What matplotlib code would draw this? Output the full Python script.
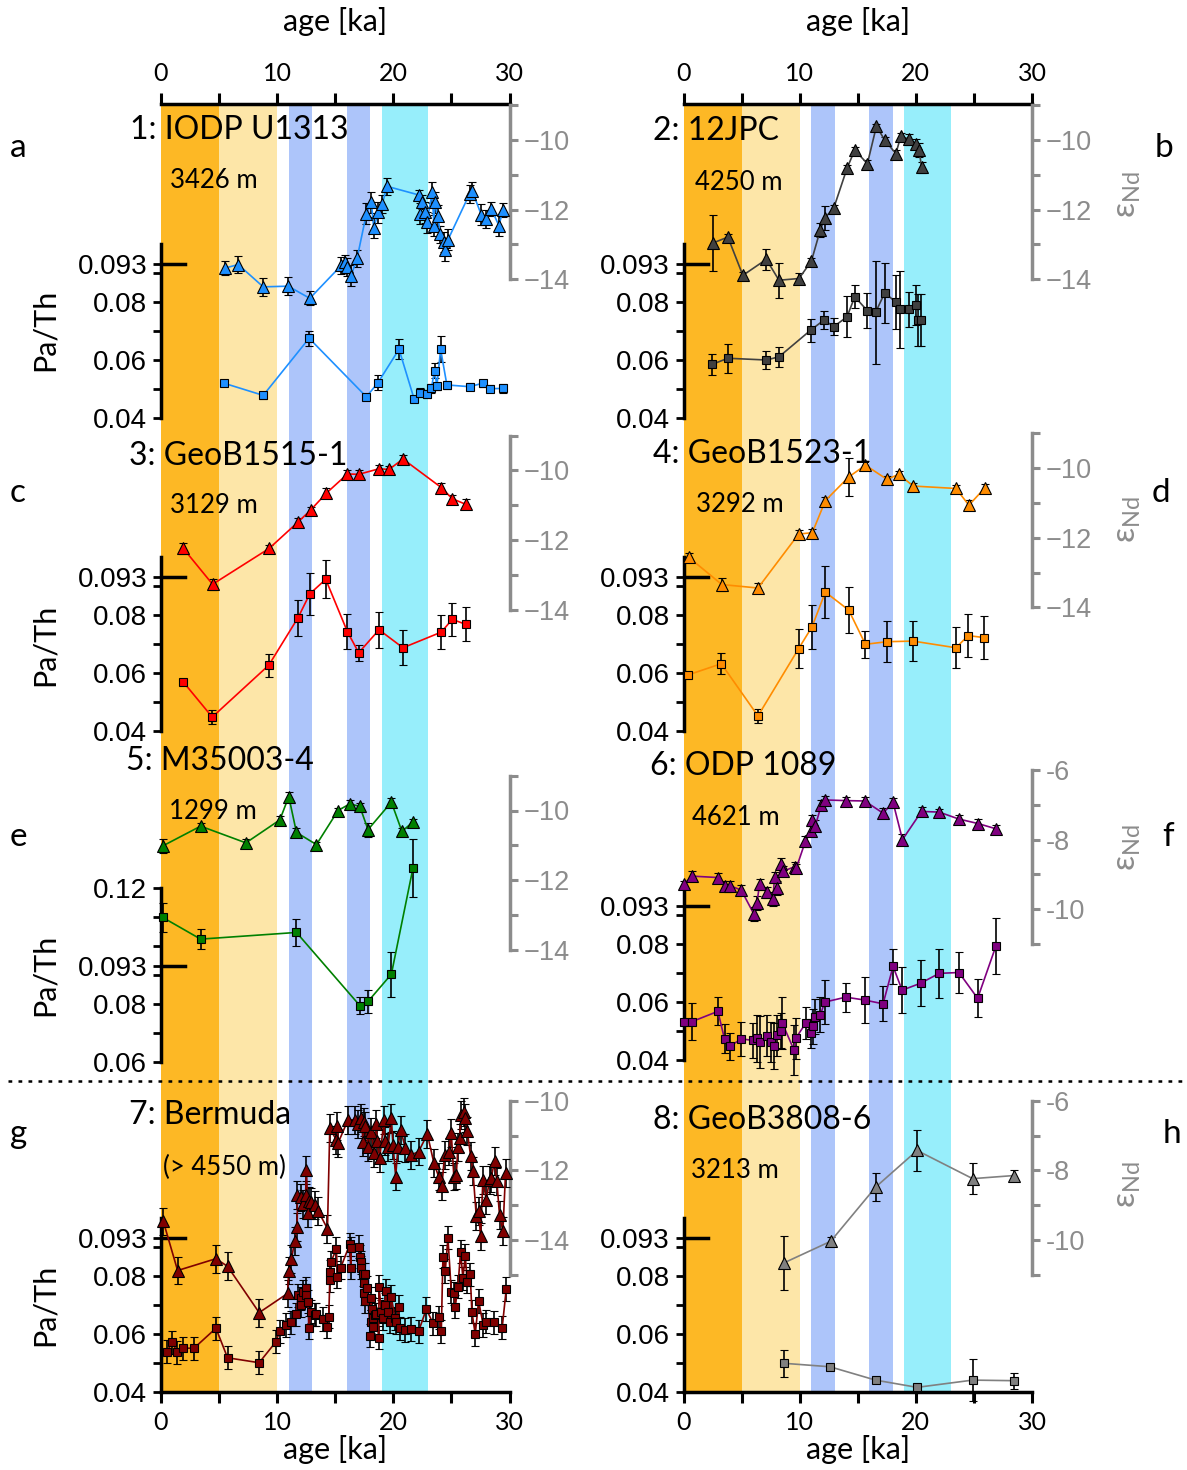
import numpy as np
import matplotlib
matplotlib.use("Agg")
import matplotlib.pyplot as plt

plt.rcParams['font.family'] = ['Lato', 'DejaVu Sans']
plt.rcParams['mathtext.fontset'] = 'custom'
plt.rcParams['mathtext.rm'] = 'Lato'

# ---------------- data (age in ka) ----------------
# 1: IODP U1313
u1313_nd_age = [5.50, 6.65, 8.80, 10.95, 12.81, 15.53, 15.82, 16.05, 16.36, 16.88,
                17.68, 18.11, 18.31, 18.71, 19.05, 19.45, 22.20, 22.32, 22.49, 22.72,
                22.89, 23.35, 23.49, 23.55, 23.83, 24.04, 24.33, 24.44, 24.70, 26.56,
                26.79, 27.57, 28.00, 28.43, 29.09, 29.44]
u1313_nd = [-13.68, -13.58, -14.22, -14.20, -14.55, -13.60, -13.50, -13.65, -13.90, -13.40,
            -12.12, -11.79, -12.52, -12.08, -11.84, -11.33, -11.58, -12.12, -11.79, -12.08,
            -12.36, -11.50, -12.46, -11.79, -12.17, -12.71, -12.93, -13.17, -12.87, -11.55,
            -11.46, -12.15, -12.27, -11.98, -12.46, -12.00]
u1313_nd_err = [0.2, 0.25, 0.25, 0.25, 0.2, 0.25, 0.2, 0.25, 0.3, 0.25,
                0.3, 0.3, 0.3, 0.3, 0.25, 0.25, 0.15, 0.3, 0.2, 0.3,
                0.3, 0.3, 0.3, 0.3, 0.3, 0.25, 0.3, 0.3, 0.3, 0.25,
                0.25, 0.3, 0.25, 0.2, 0.3, 0.2]
u1313_pa_age = [5.42, 8.80, 12.75, 17.68, 18.68, 20.49, 21.78, 22.27, 22.90, 23.27,
                23.55, 23.75, 24.07, 24.61, 26.56, 27.71, 28.34, 29.44]
u1313_pa = [0.0520, 0.0478, 0.0675, 0.0473, 0.0522, 0.0637, 0.0467, 0.0487, 0.0483, 0.0502,
            0.0563, 0.0510, 0.0637, 0.0514, 0.0508, 0.0520, 0.0501, 0.0502]
u1313_pa_err = [0.001, 0.0012, 0.0025, 0.0008, 0.0025, 0.0035, 0.001, 0.0015, 0.0015, 0.0015,
                0.0025, 0.0012, 0.0045, 0.0015, 0.0012, 0.0012, 0.0012, 0.0015]

# 2: 12JPC
jpc_nd_age = [2.53, 3.82, 5.11, 7.13, 8.22, 9.94, 11.01, 11.78, 12.16, 12.93,
              14.08, 14.74, 15.83, 16.61, 17.33, 18.28, 18.71, 19.43, 20.00, 20.29, 20.49]
jpc_nd = [-12.96, -12.79, -13.89, -13.43, -14.03, -13.98, -13.48, -12.58, -12.24, -11.96,
          -10.81, -10.29, -10.68, -9.60, -10.01, -10.39, -9.89, -9.98, -10.12, -10.29, -10.79]
jpc_nd_err = [0.8, 0.1, 0.1, 0.3, 0.5, 0.15, 0.1, 0.2, 0.35, 0.1,
              0.1, 0.1, 0.1, 0.05, 0.1, 0.1, 0.1, 0.15, 0.15, 0.2, 0.15]
jpc_pa_age = [2.47, 3.82, 7.13, 8.22, 10.95, 12.10, 12.93, 14.08, 14.74, 15.83,
              16.53, 17.33, 18.25, 18.68, 19.43, 20.00, 20.20, 20.43]
jpc_pa = [0.0585, 0.0606, 0.0600, 0.0611, 0.0703, 0.0738, 0.0715, 0.0749, 0.0818, 0.0770,
          0.0764, 0.0832, 0.0800, 0.0775, 0.0775, 0.0790, 0.0738, 0.0738]
jpc_pa_err = [0.0035, 0.005, 0.003, 0.0035, 0.004, 0.003, 0.003, 0.007, 0.004, 0.006,
              0.0178, 0.0103, 0.0094, 0.0132, 0.006, 0.007, 0.009, 0.009]

# 3: GeoB1515-1
b1515_nd_age = [1.92, 4.44, 9.31, 11.80, 12.87, 14.24, 16.05, 17.02, 18.77, 19.63,
                20.83, 24.13, 25.07, 26.22]
b1515_nd = [-12.24, -13.27, -12.24, -11.48, -11.14, -10.65, -10.10, -10.11, -9.95, -9.97,
            -9.67, -10.49, -10.81, -10.97]
b1515_nd_err = [0.15, 0.15, 0.1, 0.12, 0.1, 0.15, 0.12, 0.12, 0.12, 0.1,
                0.12, 0.12, 0.1, 0.15]
b1515_pa_age = [1.92, 4.41, 9.28, 11.80, 12.81, 14.18, 16.05, 17.02, 18.77, 20.83,
                24.13, 25.07, 26.22]
b1515_pa = [0.0569, 0.0448, 0.0627, 0.0791, 0.0873, 0.0923, 0.0742, 0.0670, 0.0749, 0.0687,
            0.0741, 0.0785, 0.0768]
b1515_pa_err = [0.001, 0.0025, 0.004, 0.0062, 0.0072, 0.0066, 0.006, 0.0028, 0.0063, 0.006,
                0.0058, 0.0058, 0.0058]

# 4: GeoB1523-1
b1523_nd_age = [0.46, 3.30, 6.41, 9.91, 11.09, 12.21, 14.22, 15.66, 17.53, 18.53,
                19.77, 23.45, 24.57, 25.95]
b1523_nd = [-12.56, -13.34, -13.44, -11.89, -11.85, -10.93, -10.25, -9.91, -10.32, -10.17,
            -10.51, -10.58, -11.06, -10.56]
b1523_nd_err = [0.12, 0.2, 0.15, 0.12, 0.12, 0.1, 0.55, 0.12, 0.1, 0.1,
                0.1, 0.1, 0.15, 0.1]
b1523_pa_age = [0.37, 3.25, 6.41, 9.91, 11.06, 12.21, 14.22, 15.66, 17.53, 19.77,
                23.45, 24.51, 25.89]
b1523_pa = [0.0593, 0.0632, 0.0452, 0.0684, 0.0759, 0.0879, 0.0817, 0.0699, 0.0708, 0.0710,
            0.0687, 0.0729, 0.0722]
b1523_pa_err = [0.0005, 0.0036, 0.0025, 0.0068, 0.0077, 0.009, 0.0078, 0.0046, 0.007, 0.007,
                0.007, 0.0074, 0.0075]

# 5: M35003-4
m35_nd_age = [0.14, 3.41, 7.31, 10.23, 11.00, 11.66, 13.38, 15.24, 16.25, 17.11,
              17.82, 19.83, 20.74, 21.69]
m35_nd = [-11.02, -10.45, -10.93, -10.27, -9.60, -10.63, -10.98, -10.00, -9.81, -9.88,
          -10.55, -9.76, -10.60, -10.33]
m35_nd_err = [0.2, 0.1, 0.1, 0.12, 0.12, 0.12, 0.08, 0.08, 0.12, 0.1,
              0.2, 0.12, 0.1, 0.08]
m35_pa_age = [0.14, 3.41, 11.66, 17.11, 17.82, 19.83, 21.69]
m35_pa = [0.1097, 0.1022, 0.1045, 0.0793, 0.0807, 0.0901, 0.1267]
m35_pa_err = [0.005, 0.0035, 0.0048, 0.003, 0.004, 0.0078, 0.010]

# 6: ODP 1089
odp_nd_age = [0.00, 0.75, 2.96, 3.53, 4.02, 4.97, 6.06, 6.32, 6.55, 7.18,
              7.70, 7.84, 8.04, 8.42, 8.56, 9.57, 9.72, 10.49, 11.01, 11.09,
              11.35, 11.87, 12.16, 13.97, 15.60, 17.18, 18.04, 18.85, 20.49, 22.01,
              23.71, 25.37, 26.90]
odp_nd = [-9.29, -9.05, -9.09, -9.33, -9.33, -9.45, -10.14, -9.81, -9.29, -9.52,
          -9.71, -9.07, -9.38, -8.69, -8.91, -8.78, -8.81, -8.05, -7.76, -7.43,
          -7.60, -7.00, -6.86, -6.88, -6.89, -7.24, -6.93, -8.00, -7.19, -7.21,
          -7.41, -7.54, -7.69]
odp_nd_err = [0.1, 0.15, 0.12, 0.15, 0.15, 0.15, 0.2, 0.2, 0.15, 0.15,
              0.2, 0.15, 0.2, 0.15, 0.15, 0.15, 0.12, 0.15, 0.15, 0.15,
              0.15, 0.15, 0.12, 0.1, 0.12, 0.15, 0.12, 0.15, 0.12, 0.1,
              0.12, 0.12, 0.12]
odp_pa_age = [0.00, 0.75, 2.96, 3.53, 3.97, 4.97, 5.97, 6.32, 6.55, 7.21,
              7.56, 7.78, 8.04, 8.36, 8.51, 9.51, 9.66, 10.52, 11.01, 11.15,
              11.35, 11.78, 12.16, 13.97, 15.60, 17.18, 18.04, 18.82, 20.41, 22.01,
              23.71, 25.32, 26.90]
odp_pa = [0.0529, 0.0531, 0.0566, 0.0471, 0.0445, 0.0471, 0.0466, 0.0473, 0.0460, 0.0482,
          0.0460, 0.0447, 0.0483, 0.0499, 0.0525, 0.0433, 0.0473, 0.0525, 0.0491, 0.0514,
          0.0548, 0.0554, 0.0598, 0.0615, 0.0605, 0.0592, 0.0721, 0.0639, 0.0663, 0.0697,
          0.0700, 0.0611, 0.0792]
odp_pa_err = [0.001, 0.0063, 0.0048, 0.005, 0.0045, 0.006, 0.006, 0.008, 0.009, 0.007,
              0.007, 0.008, 0.007, 0.006, 0.009, 0.0085, 0.007, 0.0055, 0.005, 0.006,
              0.006, 0.006, 0.0075, 0.005, 0.008, 0.006, 0.006, 0.008, 0.008, 0.0085,
              0.0072, 0.0065, 0.0097]

# 7: Bermuda
berm_nd_age = [0.20, 1.43, 4.73, 5.73, 8.45, 10.89, 11.00, 11.23, 11.52, 11.72,
               11.75, 12.09, 12.23, 12.44, 12.52, 12.66, 12.72, 12.95, 13.24, 13.52,
               14.33, 14.53, 15.10, 15.19, 15.24, 16.10, 16.68, 16.96, 17.25, 17.39,
               17.48, 17.60, 17.82, 18.11, 18.34, 18.54, 18.60, 18.83, 19.20, 19.25,
               19.54, 19.83, 19.97, 20.20, 20.40, 20.63, 21.03, 21.55, 22.18, 22.93,
               23.49, 23.90, 24.18, 24.41, 24.76, 24.99, 25.21, 25.42, 25.56, 25.70,
               25.85, 26.07, 26.19, 26.36, 26.65, 26.85, 27.14, 27.34, 27.51, 27.71,
               28.00, 28.28, 28.43, 28.71, 28.91, 29.14, 29.43, 29.66]
berm_nd = [-13.47, -14.88, -14.54, -14.76, -16.09, -15.54, -14.88, -14.54, -14.02, -13.64,
           -12.70, -12.78, -12.96, -12.70, -11.99, -13.23, -12.89, -12.91, -12.99, -13.16,
           -13.68, -10.79, -11.13, -10.72, -11.22, -10.55, -10.55, -10.68, -10.50, -11.19,
           -10.60, -10.72, -11.32, -10.89, -11.51, -10.68, -11.17, -11.65, -10.55, -11.17,
           -11.32, -10.50, -11.27, -12.18, -11.32, -10.84, -11.35, -11.56, -11.46, -10.96,
           -11.79, -12.18, -12.46, -11.56, -11.46, -10.93, -12.18, -12.13, -11.32, -11.06,
           -10.41, -10.32, -10.50, -10.87, -11.58, -12.01, -13.32, -13.18, -13.90, -12.27,
           -12.85, -12.27, -12.22, -11.73, -12.32, -13.28, -13.75, -12.08]
berm_nd_err = 0.4
berm_pa_age = [0.49, 0.97, 1.40, 1.92, 2.84, 4.73, 5.73, 8.45, 9.89, 10.23,
               10.80, 11.23, 11.66, 11.80, 12.01, 12.09, 12.23, 12.46, 12.52, 12.66,
               12.72, 12.95, 13.24, 13.38, 13.95, 14.33, 14.44, 14.53, 14.56, 14.61,
               15.10, 15.19, 15.47, 16.25, 16.33, 16.39, 17.02, 17.11, 17.19, 17.25,
               17.39, 17.45, 17.48, 17.54, 17.60, 17.77, 18.02, 18.05, 18.08, 18.16,
               18.25, 18.28, 18.40, 18.54, 18.74, 18.77, 18.97, 19.11, 19.26, 19.34,
               19.54, 19.69, 19.83, 20.12, 20.26, 20.46, 20.55, 20.98, 21.55, 22.18,
               22.84, 23.41, 23.90, 24.13, 24.27, 24.47, 24.70, 24.99, 25.21, 25.33,
               25.56, 25.79, 25.99, 26.19, 26.36, 26.62, 26.76, 27.05, 27.34, 27.74,
               28.00, 28.63, 29.37, 29.72]
berm_pa = [0.0539, 0.0571, 0.0537, 0.0551, 0.0551, 0.0620, 0.0518, 0.0501, 0.0573, 0.0610,
           0.0631, 0.0640, 0.0668, 0.0734, 0.0723, 0.0700, 0.0746, 0.0758, 0.0734, 0.0711,
           0.0622, 0.0677, 0.0666, 0.0668, 0.0652, 0.0625, 0.0660, 0.0786, 0.0815, 0.0847,
           0.0893, 0.0798, 0.0829, 0.0909, 0.0829, 0.0896, 0.0901, 0.0867, 0.0847, 0.0829,
           0.0806, 0.0740, 0.0775, 0.0806, 0.0714, 0.0760, 0.0594, 0.0723, 0.0642, 0.0686,
           0.0654, 0.0625, 0.0666, 0.0668, 0.0587, 0.0763, 0.0677, 0.0654, 0.0700, 0.0748,
           0.0677, 0.0642, 0.0729, 0.0654, 0.0640, 0.0694, 0.0620, 0.0614, 0.0617, 0.0610,
           0.0686, 0.0637, 0.0658, 0.0610, 0.0867, 0.0817, 0.0932, 0.0746, 0.0740, 0.0694,
           0.0763, 0.0884, 0.0792, 0.0870, 0.0780, 0.0806, 0.0677, 0.0599, 0.0714, 0.0631,
           0.0642, 0.0640, 0.0622, 0.0755]
berm_pa_err = 0.004

# 8: GeoB3808-6
b3808_nd_age = [8.65, 12.67, 16.55, 20.11, 24.89, 28.47]
b3808_nd = [-10.66, -10.04, -8.48, -7.43, -8.24, -8.15]
b3808_nd_err = [0.78, 0.13, 0.4, 0.6, 0.45, 0.17]
b3808_pa_age = [8.65, 12.61, 16.53, 20.11, 24.89, 28.45]
b3808_pa = [0.0499, 0.0487, 0.0441, 0.0416, 0.0441, 0.0439]
b3808_pa_err = [0.0046, 0.001, 0.0005, 0.0005, 0.0072, 0.0028]

# climate intervals shaded in every panel
band_start = [0, 5, 11, 16, 19]
band_end = [5, 10, 13, 18, 23]
band_color = ['#FDB825', '#FDE6A8', '#ADC5FA', '#ADC5FA', '#97EEFB']

# ---------------- layout ----------------
W, H = 1187, 1470
Y_TOP, Y_BOT = 104, 1392
COL_X = [(161, 509.5), (683.5, 1032)]
PA_SCALE, ND_SCALE = 2900.0, 34.8
GREY = '#8C8C8C'
TICK_FONT = 'Liberation Sans'

fig = plt.figure(figsize=(W / 100, H / 100), dpi=100)


def col_rect(col):
    x0, x1 = COL_X[col]
    return [x0 / W, 1 - Y_BOT / H, (x1 - x0) / W, (Y_BOT - Y_TOP) / H]


def lims(v0, p0, scale):
    return (v0 - (Y_BOT - p0) / scale, v0 + (p0 - Y_TOP) / scale)


def overlay(col, ylim):
    ax = fig.add_axes(col_rect(col))
    ax.patch.set_visible(False)
    ax.set_xlim(0, 30)
    ax.set_ylim(*ylim)
    for s in ax.spines.values():
        s.set_visible(False)
    ax.set_xticks([])
    return ax


def series(ax, x, y, e, marker, color, ms):
    order = np.argsort(x, kind='stable')
    x = np.asarray(x)[order]
    y = np.asarray(y)[order]
    e = np.asarray(e)[order] if np.ndim(e) else e
    line, caps, bars = ax.errorbar(x, y, yerr=e, fmt='-' + marker, color=color, mfc=color,
                                   mec='k', mew=0.8, ms=ms, lw=1.2, ecolor='k',
                                   elinewidth=1.2, capsize=3, capthick=1.2, zorder=3)
    for art in [line, *caps, *bars]:
        art.set_clip_on(False)


# column frames with age axes and shaded intervals
for col in (0, 1):
    bg = fig.add_axes(col_rect(col))
    bg.set_xlim(0, 30)
    bg.set_ylim(0, 1)
    for s, e, c in zip(band_start, band_end, band_color):
        bg.axvspan(s, e, color=c, lw=0, zorder=0)
    bg.spines['left'].set_visible(False)
    bg.spines['right'].set_visible(False)
    bg.spines['top'].set_linewidth(2.5)
    bg.spines['bottom'].set_linewidth(2.5)
    bg.set_yticks([])
    bg.set_xticks([0, 10, 20, 30])
    bg.set_xticks([5, 15, 25], minor=True)
    bg.tick_params(axis='x', which='both', top=True, bottom=True, labeltop=True,
                   labelbottom=True, direction='out', length=8, width=2.2,
                   labelsize=18, pad=6)
    xc = (COL_X[col][0] + COL_X[col][1]) / 2 / W
    fig.text(xc, 1 - 22 / H, 'age [ka]', ha='center', va='center', fontsize=22)
    fig.text(xc, 1 - 1450 / H, 'age [ka]', ha='center', va='center', fontsize=22)

panels = [
    dict(col=0, pa_ref=(0.04, 418), pa_span=(0.04, 0.10), pa_major=[0.04, 0.06, 0.08, 0.093],
         pa_minor=[0.05, 0.07, 0.09], nd_ref=(-10, 140), nd_span=(-14, -9), nd_minus='\u2212',
         nd=(u1313_nd_age, u1313_nd, u1313_nd_err), pa=(u1313_pa_age, u1313_pa, u1313_pa_err),
         color='#1E90FF', title='1: IODP U1313', title_xy=(130, 139), depth='3426 m',
         depth_xy=(170, 188), letter='a', letter_xy=(10, 157), ylabel_y=330),
    dict(col=1, pa_ref=(0.04, 418), pa_span=(0.04, 0.10), pa_major=[0.04, 0.06, 0.08, 0.093],
         pa_minor=[0.05, 0.07, 0.09], nd_ref=(-10, 140), nd_span=(-14, -9), nd_minus='\u2212',
         nd=(jpc_nd_age, jpc_nd, jpc_nd_err), pa=(jpc_pa_age, jpc_pa, jpc_pa_err),
         color='#404040', title='2: 12JPC', title_xy=(653, 140), depth='4250 m',
         depth_xy=(695, 190), letter='b', letter_xy=(1155, 157), nd_label_y=195),
    dict(col=0, pa_ref=(0.04, 731), pa_span=(0.04, 0.10), pa_major=[0.04, 0.06, 0.08, 0.093],
         pa_minor=[0.05, 0.07, 0.09], nd_ref=(-10, 470.5), nd_span=(-14, -9), nd_minus='\u2212',
         nd=(b1515_nd_age, b1515_nd, b1515_nd_err), pa=(b1515_pa_age, b1515_pa, b1515_pa_err),
         color='#FF0000', title='3: GeoB1515-1', title_xy=(129, 465), depth='3129 m',
         depth_xy=(170, 513), letter='c', letter_xy=(10, 502), ylabel_y=645),
    dict(col=1, pa_ref=(0.04, 731), pa_span=(0.04, 0.10), pa_major=[0.04, 0.06, 0.08, 0.093],
         pa_minor=[0.05, 0.07, 0.09], nd_ref=(-10, 468.3), nd_span=(-14, -9), nd_minus='\u2212',
         nd=(b1523_nd_age, b1523_nd, b1523_nd_err), pa=(b1523_pa_age, b1523_pa, b1523_pa_err),
         color='#FF8C00', title='4: GeoB1523-1', title_xy=(653, 463), depth='3292 m',
         depth_xy=(696, 512), letter='d', letter_xy=(1152, 502), nd_label_y=520),
    dict(col=0, pa_ref=(0.06, 1061.5), pa_span=(0.06, 0.12), pa_major=[0.06, 0.08, 0.093, 0.12],
         pa_minor=[0.07, 0.09, 0.10, 0.11], nd_ref=(-10, 810.5), nd_span=(-14, -9), nd_minus='\u2212',
         nd=(m35_nd_age, m35_nd, m35_nd_err), pa=(m35_pa_age, m35_pa, m35_pa_err),
         color='#008000', title='5: M35003-4', title_xy=(126, 770), depth='1299 m',
         depth_xy=(169, 819), letter='e', letter_xy=(10, 846), ylabel_y=975),
    dict(col=1, pa_ref=(0.04, 1059.5), pa_span=(0.04, 0.10), pa_major=[0.04, 0.06, 0.08, 0.093],
         pa_minor=[0.05, 0.07, 0.09], nd_ref=(-6, 770), nd_span=(-11, -6), nd_minus='-',
         nd=(odp_nd_age, odp_nd, odp_nd_err), pa=(odp_pa_age, odp_pa, odp_pa_err),
         color='#800080', title='6: ODP 1089', title_xy=(650, 775), depth='4621 m',
         depth_xy=(692, 825), letter='f', letter_xy=(1162, 846), nd_label_y=848),
    dict(col=0, pa_ref=(0.04, 1392), pa_span=(0.04, 0.10), pa_major=[0.04, 0.06, 0.08, 0.093],
         pa_minor=[0.05, 0.07, 0.09], nd_ref=(-10, 1100.7), nd_span=(-15, -10), nd_minus='\u2212',
         nd=(berm_nd_age, berm_nd, berm_nd_err), pa=(berm_pa_age, berm_pa, berm_pa_err),
         color='#800000', title='7: Bermuda', title_xy=(129, 1124), depth='(> 4550 m)',
         depth_xy=(163, 1175), letter='g', letter_xy=(10, 1143), ylabel_y=1305),
    dict(col=1, pa_ref=(0.04, 1392), pa_span=(0.04, 0.10), pa_major=[0.04, 0.06, 0.08, 0.093],
         pa_minor=[0.05, 0.07, 0.09], nd_ref=(-6, 1100.7), nd_span=(-11, -6), nd_minus='-',
         nd=(b3808_nd_age, b3808_nd, b3808_nd_err), pa=(b3808_pa_age, b3808_pa, b3808_pa_err),
         color='#808080', title='8: GeoB3808-6', title_xy=(653, 1129), depth='3213 m',
         depth_xy=(691, 1178), letter='h', letter_xy=(1163, 1143), nd_label_y=1185),
]

for p in panels:
    col = p['col']
    # Pa/Th axis (left)
    ax_pa = overlay(col, lims(*p['pa_ref'], PA_SCALE))
    sp = ax_pa.spines['left']
    sp.set_visible(True)
    sp.set_bounds(*p['pa_span'])
    sp.set_linewidth(2.5)
    ax_pa.yaxis.set_ticks_position('left')
    ax_pa.set_yticks(p['pa_major'])
    ax_pa.set_yticklabels([f'{v:g}' for v in p['pa_major']])
    ax_pa.set_yticks(p['pa_minor'], minor=True)
    ax_pa.tick_params(axis='y', which='both', direction='out', length=6, width=2,
                      labelsize=20, pad=4, labelfontfamily=TICK_FONT)
    width_px = COL_X[col][1] - COL_X[col][0]
    ax_pa.axhline(0.093, xmin=0, xmax=24 / width_px, color='k', lw=2.5, zorder=2)

    # eps Nd axis (right)
    ax_nd = overlay(col, lims(*p['nd_ref'], ND_SCALE))
    sp = ax_nd.spines['right']
    sp.set_visible(True)
    sp.set_bounds(*p['nd_span'])
    sp.set_linewidth(2.5)
    sp.set_color(GREY)
    ax_nd.yaxis.set_ticks_position('right')
    lo, hi = p['nd_span']
    ticks = list(range(lo, hi + 1))
    ax_nd.set_yticks(ticks)
    ax_nd.set_yticklabels([p['nd_minus'] + str(abs(v)) if v % 2 == 0 else '' for v in ticks])
    ax_nd.tick_params(axis='y', direction='out', length=6, width=2.2, colors=GREY,
                      labelsize=19.5, pad=4, labelright=True, labelleft=False,
                      labelfontfamily=TICK_FONT)

    series(ax_nd, *p['nd'], '^', p['color'], 8.5)
    series(ax_pa, *p['pa'], 's', p['color'], 6)

    fig.text(p['title_xy'][0] / W, 1 - p['title_xy'][1] / H, p['title'],
             fontsize=23, va='baseline', ha='left')
    fig.text(p['depth_xy'][0] / W, 1 - p['depth_xy'][1] / H, p['depth'],
             fontsize=18.5, va='baseline', ha='left')
    fig.text(p['letter_xy'][0] / W, 1 - p['letter_xy'][1] / H, p['letter'],
             fontsize=24, va='baseline', ha='left')
    if 'ylabel_y' in p:
        fig.text(45 / W, 1 - p['ylabel_y'] / H, 'Pa/Th', rotation=90, fontsize=22,
                 ha='center', va='center')
    if 'nd_label_y' in p:
        fig.text(1128 / W, 1 - p['nd_label_y'] / H, '\u03b5$_{\\mathrm{Nd}}$', rotation=90,
                 fontsize=24, color=GREY, ha='center', va='center')

# separator between the upper and lower sites
fig.add_artist(plt.Line2D([8 / W, 1.0], [1 - 1081 / H, 1 - 1081 / H], color='k',
                          lw=1.8, linestyle=(0, (1.5, 2.5))))

fig.savefig('out.png', dpi=100)
